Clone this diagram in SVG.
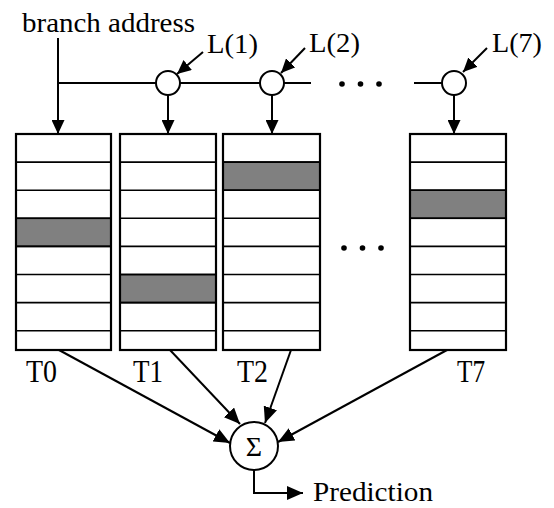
<svg xmlns="http://www.w3.org/2000/svg" width="554" height="508" viewBox="0 0 554 508">
  <style>
    text { font-family: "Liberation Serif", "Times New Roman", serif; font-size: 28px; fill: #000; }
    .tl { font-size: 31px; }
    .ln { stroke: #000; stroke-width: 2; fill: none; }
    .tbl { stroke: #000; stroke-width: 2; fill: #fff; }
    .frame { fill: none; stroke: #000; stroke-width: 2.2; }
    .row { stroke: #000; stroke-width: 1.6; }
    .hi { fill: #808080; stroke: #000; stroke-width: 1.6; }
    .node { fill: #fff; stroke: #000; stroke-width: 2; }
    .dot { fill: #000; }
  </style>
  <defs>
    <marker id="ah" markerUnits="userSpaceOnUse" markerWidth="14" markerHeight="13" viewBox="0 0 14 13" refX="14" refY="6.5" orient="auto">
      <path d="M0,0 L14,6.5 L0,13 z" fill="#000"/>
    </marker>
    <marker id="ahL" markerUnits="userSpaceOnUse" markerWidth="16" markerHeight="14" viewBox="0 0 16 14" refX="16" refY="7" orient="auto">
      <path d="M0,0 L16,7 L0,14 z" fill="#000"/>
    </marker>
  </defs>

  <g id="label-branch">
    <text x="22" y="32" textLength="173" lengthAdjust="spacingAndGlyphs">branch address</text>
  </g>

  <g id="mux1">
    <circle class="node" cx="168" cy="83" r="12"/>
    <text x="207" y="53" textLength="51" lengthAdjust="spacingAndGlyphs">L(1)</text>
  </g>
  <g id="mux2">
    <circle class="node" cx="272" cy="83" r="12"/>
    <text x="309" y="52" textLength="51" lengthAdjust="spacingAndGlyphs">L(2)</text>
  </g>
  <g id="mux7">
    <circle class="node" cx="454" cy="83" r="12"/>
    <text x="492" y="52" textLength="50" lengthAdjust="spacingAndGlyphs">L(7)</text>
  </g>

  <g id="dots-top">
    <circle class="dot" cx="342" cy="84" r="2.8"/>
    <circle class="dot" cx="360.5" cy="84" r="2.8"/>
    <circle class="dot" cx="379" cy="84" r="2.8"/>
  </g>
  <g id="dots-mid">
    <circle class="dot" cx="344" cy="248" r="2.8"/>
    <circle class="dot" cx="362.5" cy="248" r="2.8"/>
    <circle class="dot" cx="381" cy="248" r="2.8"/>
  </g>

  <g id="T0">
    <rect class="tbl" x="16" y="134" width="95" height="216"/>
    <rect class="hi" x="16" y="218.3" width="95" height="28.1"/>
    <path class="row" d="M16,162.1H111M16,190.2H111M16,218.3H111M16,246.4H111M16,274.5H111M16,302.6H111M16,330.7H111"/>
    <rect class="frame" x="16" y="134" width="95" height="216"/>
    <text class="tl" x="26" y="382" textLength="31" lengthAdjust="spacingAndGlyphs">T0</text>
  </g>
  <g id="T1">
    <rect class="tbl" x="120" y="134" width="96" height="216"/>
    <rect class="hi" x="120" y="274.5" width="96" height="28.1"/>
    <path class="row" d="M120,162.1H216M120,190.2H216M120,218.3H216M120,246.4H216M120,274.5H216M120,302.6H216M120,330.7H216"/>
    <rect class="frame" x="120" y="134" width="96" height="216"/>
    <text class="tl" x="133" y="382" textLength="30" lengthAdjust="spacingAndGlyphs">T1</text>
  </g>
  <g id="T2">
    <rect class="tbl" x="223" y="134" width="97" height="216"/>
    <rect class="hi" x="223" y="162.1" width="97" height="28.1"/>
    <path class="row" d="M223,162.1H320M223,190.2H320M223,218.3H320M223,246.4H320M223,274.5H320M223,302.6H320M223,330.7H320"/>
    <rect class="frame" x="223" y="134" width="97" height="216"/>
    <text class="tl" x="237" y="382" textLength="31" lengthAdjust="spacingAndGlyphs">T2</text>
  </g>
  <g id="T7">
    <rect class="tbl" x="410" y="134" width="96" height="216"/>
    <rect class="hi" x="410" y="190.2" width="96" height="28.1"/>
    <path class="row" d="M410,162.1H506M410,190.2H506M410,218.3H506M410,246.4H506M410,274.5H506M410,302.6H506M410,330.7H506"/>
    <rect class="frame" x="410" y="134" width="96" height="216"/>
    <text class="tl" x="457" y="382" textLength="28" lengthAdjust="spacingAndGlyphs">T7</text>
  </g>

  <g id="sum">
    <circle class="node" cx="254" cy="446" r="24"/>
    <text x="254" y="456" text-anchor="middle" font-size="29">Σ</text>
  </g>
  <g id="label-prediction">
    <text x="313" y="501" textLength="120" lengthAdjust="spacingAndGlyphs" font-size="29">Prediction</text>
  </g>

  <g id="connectors">
    <path class="ln" d="M58,38 V134" marker-end="url(#ah)"/>
    <path class="ln" d="M58,83 H156"/>
    <path class="ln" d="M180,83 H260"/>
    <path class="ln" d="M284,83 H311"/>
    <path class="ln" d="M414,83 H442"/>
    <path class="ln" d="M168,95 V134" marker-end="url(#ah)"/>
    <path class="ln" d="M272,95 V134" marker-end="url(#ah)"/>
    <path class="ln" d="M454,95 V134" marker-end="url(#ah)"/>
    <path class="ln" d="M203,52 L177,74" marker-end="url(#ah)"/>
    <path class="ln" d="M305,48 L281,73" marker-end="url(#ah)"/>
    <path class="ln" d="M487,48 L463,72" marker-end="url(#ah)"/>
    <path class="ln" d="M59,350 L230,443" marker-end="url(#ahL)"/>
    <path class="ln" d="M170,350 L240,424" marker-end="url(#ahL)"/>
    <path class="ln" d="M291,350 L265,423" marker-end="url(#ahL)"/>
    <path class="ln" d="M447,350 L278,442" marker-end="url(#ahL)"/>
    <path class="ln" d="M254,470 V493 H303" marker-end="url(#ahL)"/>
  </g>
</svg>
